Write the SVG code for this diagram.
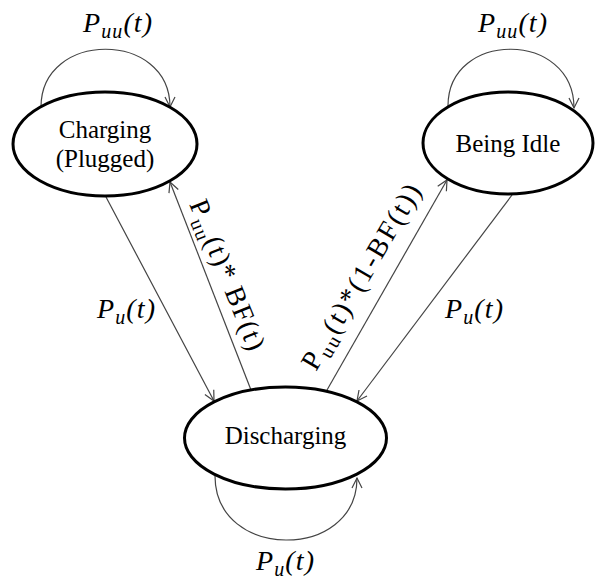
<svg xmlns="http://www.w3.org/2000/svg" width="595" height="583" viewBox="0 0 595 583">
<style>
.node{fill:#fff;stroke:#000;stroke-width:3}
.nt{font-family:"Liberation Serif","Times New Roman",serif;font-size:25px;fill:#000;text-anchor:middle}
.edge{fill:none;stroke:#444;stroke-width:1.2}
.lbl{font-family:"Liberation Serif","Times New Roman",serif;font-size:28px;font-style:italic;fill:#000}
.rl{font-family:"Liberation Serif","Times New Roman",serif;font-size:28px;fill:#000}
.sub{font-size:20px}
</style>
<defs>
<marker id="arr" markerUnits="userSpaceOnUse" markerWidth="14" markerHeight="14" refX="11" refY="6" orient="auto" viewBox="0 0 14 12">
<path d="M1,1 L11,6 L1,11" fill="none" stroke="#444" stroke-width="1.2"/>
</marker>
</defs>
<g id="connectors">
<path class="edge" d="M41,107 C41,30 170,30 170,107" marker-end="url(#arr)"/>
<path class="edge" d="M448,106 C448,30 574,30 574,108" marker-end="url(#arr)"/>
<path class="edge" d="M215,476 C215,561 357,561 357,478" marker-end="url(#arr)"/>
<line class="edge" x1="106" y1="197" x2="214" y2="401" marker-end="url(#arr)"/>
<line class="edge" x1="251" y1="390" x2="170" y2="182" marker-end="url(#arr)"/>
<line class="edge" x1="327" y1="390" x2="447" y2="180" marker-end="url(#arr)"/>
<line class="edge" x1="512" y1="195" x2="357" y2="401" marker-end="url(#arr)"/>
<text class="lbl" x="83" y="32" textLength="69" lengthAdjust="spacing">P<tspan class="sub" dy="6">uu</tspan><tspan dy="-6">(t)</tspan></text>
<text class="lbl" x="478" y="32" textLength="69" lengthAdjust="spacing">P<tspan class="sub" dy="6">uu</tspan><tspan dy="-6">(t)</tspan></text>
<text class="lbl" x="97" y="318" textLength="58" lengthAdjust="spacing">P<tspan class="sub" dy="6">u</tspan><tspan dy="-6">(t)</tspan></text>
<text class="lbl" x="445" y="318" textLength="58" lengthAdjust="spacing">P<tspan class="sub" dy="6">u</tspan><tspan dy="-6">(t)</tspan></text>
<text class="lbl" x="256" y="570" textLength="58" lengthAdjust="spacing">P<tspan class="sub" dy="6">u</tspan><tspan dy="-6">(t)</tspan></text>
<text class="rl" transform="translate(189,204) rotate(68)" textLength="160" lengthAdjust="spacing">P<tspan class="sub" dy="6">uu</tspan><tspan dy="-6">(t)* BF(t)</tspan></text>
<text class="rl" transform="translate(316,372) rotate(-59.7)" textLength="210" lengthAdjust="spacing">P<tspan class="sub" dy="6">uu</tspan><tspan dy="-6">(t)*(1-BF(t))</tspan></text>
</g>
<g id="charging">
<ellipse class="node" cx="105" cy="144" rx="92" ry="52"/>
<text class="nt" x="105" y="138">Charging</text>
<text class="nt" x="105" y="167">(Plugged)</text>
</g>
<g id="idle">
<ellipse class="node" cx="508" cy="143" rx="85" ry="51"/>
<text class="nt" x="508" y="152">Being Idle</text>
</g>
<g id="discharging">
<ellipse class="node" cx="285.5" cy="438" rx="101" ry="51"/>
<text class="nt" x="285.5" y="444">Discharging</text>
</g>
</svg>
